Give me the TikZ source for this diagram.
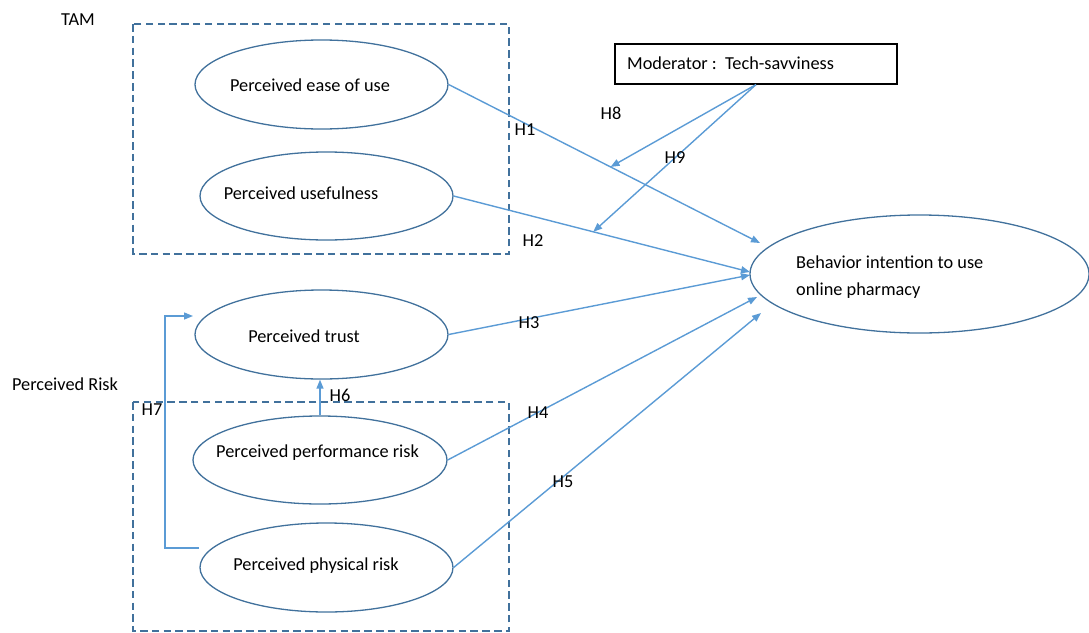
\documentclass[tikz,border=0pt]{standalone}
\usepackage{fontspec}
\setmainfont{Carlito}
\usetikzlibrary{arrows.meta,shapes.geometric}
\definecolor{arrblue}{HTML}{5B9BD5}
\definecolor{ellblue}{HTML}{41719C}
\begin{document}
\begin{tikzpicture}[x=1pt,y=-1pt,
  every node/.style={font=\fontsize{18.3}{22}\selectfont, inner sep=0pt, text=black},
  construct/.style={draw=ellblue, line width=1.3pt, ellipse, minimum width=253pt, minimum height=89pt},
  arr/.style={draw=arrblue, line width=1.4pt, -{Triangle[length=9pt,width=7pt]}},
  grp/.style={draw=ellblue, line width=1.2pt, dash pattern=on 7.5pt off 4.3pt},
  modbox/.style={draw=black, line width=1.2pt, minimum width=282pt, minimum height=40pt}]
\useasboundingbox (0,0) rectangle (1089,632);

% group labels and boxes
\node (tam) at (78,20) {TAM};
\node (risk) at (65,384) {Perceived Risk};
\draw[grp] (133,24) rectangle (509,254);
\draw[grp] (133,402) rectangle (509,631);

% constructs
\node[construct] (peou) at (321.5,84.5) {};
\node (tpeou) at (310,85) {Perceived ease of use};
\node[construct, minimum height=88pt] (pu) at (326.5,196) {};
\node (tpu) at (301,193) {Perceived usefulness};
\node[construct] (pt) at (321.5,334.5) {};
\node (tpt) at (304,336) {Perceived trust};
\node[construct, minimum width=254pt, minimum height=88pt] (ppr) at (320,460) {};
\node (tppr) at (317.5,453) {Perceived performance risk};
\node[construct] (pph) at (326.5,567.5) {};
\node (tpph) at (316,566) {Perceived physical risk};

\node[construct, minimum width=339pt, minimum height=118pt] (bi) at (919.5,274) {};
\node[anchor=base west] (tbi1) at (796,268) {Behavior intention to use};
\node[anchor=base west] (tbi2) at (796,295) {online pharmacy};

\node[modbox] (mod) at (756,64) {};
\node[anchor=west] (tmod) at (627,63) {Moderator :\ \ Tech-savviness};

% arrow end points
\coordinate (e1) at (760,243);
\coordinate (e2) at (750,272);
\coordinate (e3) at (750,275);
\coordinate (e4) at (757,297);
\coordinate (e5) at (761,313);
\coordinate (h7a) at (199,548);
\coordinate (h7b) at (193,316);

\draw[arr] (peou.east) -- (e1);
\draw[arr] (pu.east) -- (e2);
\draw[arr] (pt.east) -- (e3);
\draw[arr] (ppr.east) -- (e4);
\draw[arr] (pph.east) -- (e5);
\path (peou.east) -- (e1) coordinate[pos=0.52] (m8);
\path (pu.east) -- (e2) coordinate[pos=0.471] (m9);
\draw[arr] (mod.south) -- (m8);
\draw[arr] (mod.south) -- (m9);
\draw[arr] (ppr.north) -- (ppr.north |- pt.south);
\draw[arr] (h7a) -- ++(-34,0) |- (h7b);

% hypothesis labels
\node (H1) at (525,130) {H1};
\node (H2) at (533,241) {H2};
\node (H3) at (529,323) {H3};
\node (H4) at (538,413) {H4};
\node (H5) at (563,482) {H5};
\node (H6) at (340,395) {H6};
\node (H7) at (152,410) {H7};
\node (H8) at (611,113) {H8};
\node (H9) at (675,158) {H9};
\end{tikzpicture}
\end{document}
